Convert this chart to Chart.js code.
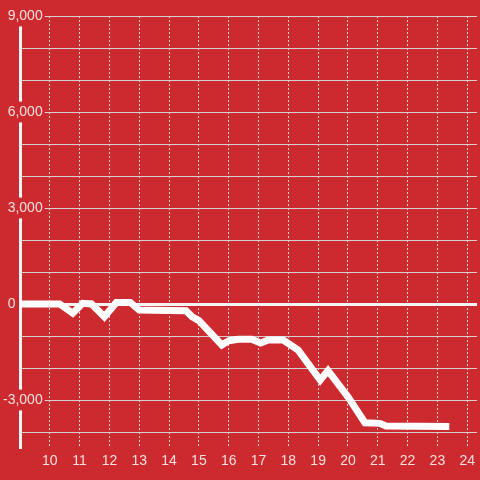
<!DOCTYPE html>
<html>
<head>
<meta charset="utf-8">
<script src="https://cdn.jsdelivr.net/npm/chart.js@4"></script>
<style>
  html, body { margin: 0; padding: 0; background: #cc2a2e; }
  canvas { display: block; }
</style>
</head>
<body>
<canvas id="myChart" width="480" height="480"></canvas>
<script>
// values
var days = [8.9, 10.33, 10.77, 11.1, 11.4, 11.83, 12.23, 12.7, 13.0, 14.57, 14.77, 15.0, 15.77, 16.0,
            16.33, 16.77, 17.07, 17.33, 17.83, 18.33, 19.07, 19.33, 20.0, 20.57, 21.07, 21.27, 23.4];
var balance = [0, 0, -290, 20, 0, -400, 50, 50, -190, -210, -400, -520, -1280, -1150,
               -1100, -1100, -1220, -1125, -1125, -1440, -2375, -2080, -2900, -3710, -3730, -3810, -3830];
var xTicks = [10, 11, 12, 13, 14, 15, 16, 17, 18, 19, 20, 21, 22, 23, 24];
var yGrid = [-4000, -3000, -2000, -1000, 0, 1000, 2000, 3000, 4000, 5000, 6000, 7000, 8000, 9000];
var yLabels = [-3000, 0, 3000, 6000, 9000];

var red = '#cc2a2e';
var labelColor = 'rgba(255,255,255,0.85)';

var points = days.map(function (d, i) { return {x: d, y: balance[i]}; });

var element = document.getElementById('myChart').getContext('2d');
var chart = new Chart(element, {
    type: 'line',
    data: {
        datasets: [{
            data: points,
            borderColor: '#ffffff',
            borderWidth: 7,
            pointRadius: 0,
            tension: 0,
            fill: false
        }]
    },
    options: {
        responsive: false,
        animation: false,
        layout: {padding: {top: 16, left: 0, right: 0, bottom: 0}},
        plugins: {legend: {display: false}, tooltip: {enabled: false}},
        scales: {
            x: {
                type: 'linear',
                min: 9,
                max: 24.33,
                afterBuildTicks: function (scale) {
                    scale.ticks = xTicks.map(function (v) { return {value: v}; });
                },
                afterFit: function (scale) { scale.height = 32; },
                grid: {
                    color: 'rgba(255,255,255,0.8)',
                    lineWidth: 1,
                    drawTicks: false
                },
                border: {display: false, dash: [2, 2]},
                ticks: {
                    color: labelColor,
                    padding: 5,
                    maxRotation: 0,
                    autoSkip: false,
                    font: {family: "'Liberation Sans', Arial, sans-serif", size: 14}
                }
            },
            y: {
                min: -4500,
                max: 9000,
                afterBuildTicks: function (scale) {
                    scale.ticks = yGrid.map(function (v) { return {value: v}; });
                },
                afterFit: function (scale) { scale.width = 20; },
                grid: {
                    color: function (ctx) { return ctx.tick && ctx.tick.value === 0 ? '#f4f4f4' : '#d2d2d2'; },
                    lineWidth: function (ctx) { return ctx.tick && ctx.tick.value === 0 ? 3 : 1; },
                    drawTicks: false
                },
                border: {display: true, color: '#f4f4f4', width: 3},
                ticks: {
                    color: labelColor,
                    mirror: true,
                    crossAlign: 'far',
                    padding: -17,
                    autoSkip: false,
                    font: {family: "'Liberation Sans', Arial, sans-serif", size: 14},
                    showLabelBackdrop: function (ctx) {
                        return yLabels.indexOf(ctx.tick.value) >= 0 && ctx.tick.value !== 0;
                    },
                    backdropColor: red,
                    backdropPadding: 2,
                    callback: function (v) {
                        if (yLabels.indexOf(v) < 0) return '';
                        if (v === 0) return '0\u2007\u2007\u2007 ';
                        return v.toLocaleString('en-US');
                    }
                }
            }
        }
    }
});
</script>
</body>
</html>
